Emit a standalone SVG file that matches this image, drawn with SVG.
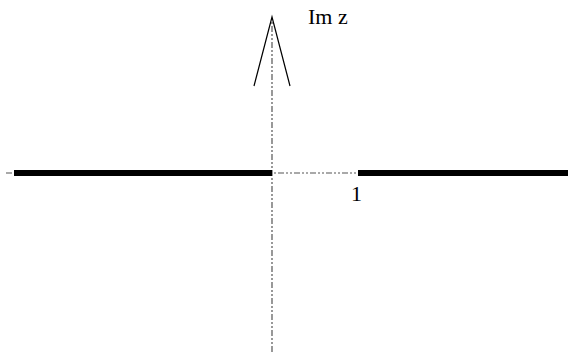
<svg xmlns="http://www.w3.org/2000/svg" width="568" height="358" viewBox="0 0 568 358">
<style>
.axis{stroke:#555;stroke-width:1.2;stroke-dasharray:6 2 2 2 2 2;fill:none}
.cut{stroke:#000;stroke-width:6;fill:none}
.arr{stroke:#000;stroke-width:1.2;fill:none}
.lbl{font-size:22px;fill:#000;font-family:'Liberation Serif','DejaVu Serif',serif}
</style>
<rect width="568" height="358" fill="#fff"/>
<g id="connectors">
<line class="axis" x1="272" y1="352" x2="272" y2="18"/>
<line class="axis" x1="6" y1="173" x2="358" y2="173"/>
<line class="cut" x1="14" y1="173" x2="272" y2="173"/>
<line class="cut" x1="358" y1="173" x2="568" y2="173"/>
<polyline class="arr" points="254,86 272,17 290,86"/>
</g>
<g id="label-imz"><text class="lbl" x="308" y="24">Im z</text></g>
<g id="label-one"><text class="lbl" x="351" y="201">1</text></g>
</svg>
